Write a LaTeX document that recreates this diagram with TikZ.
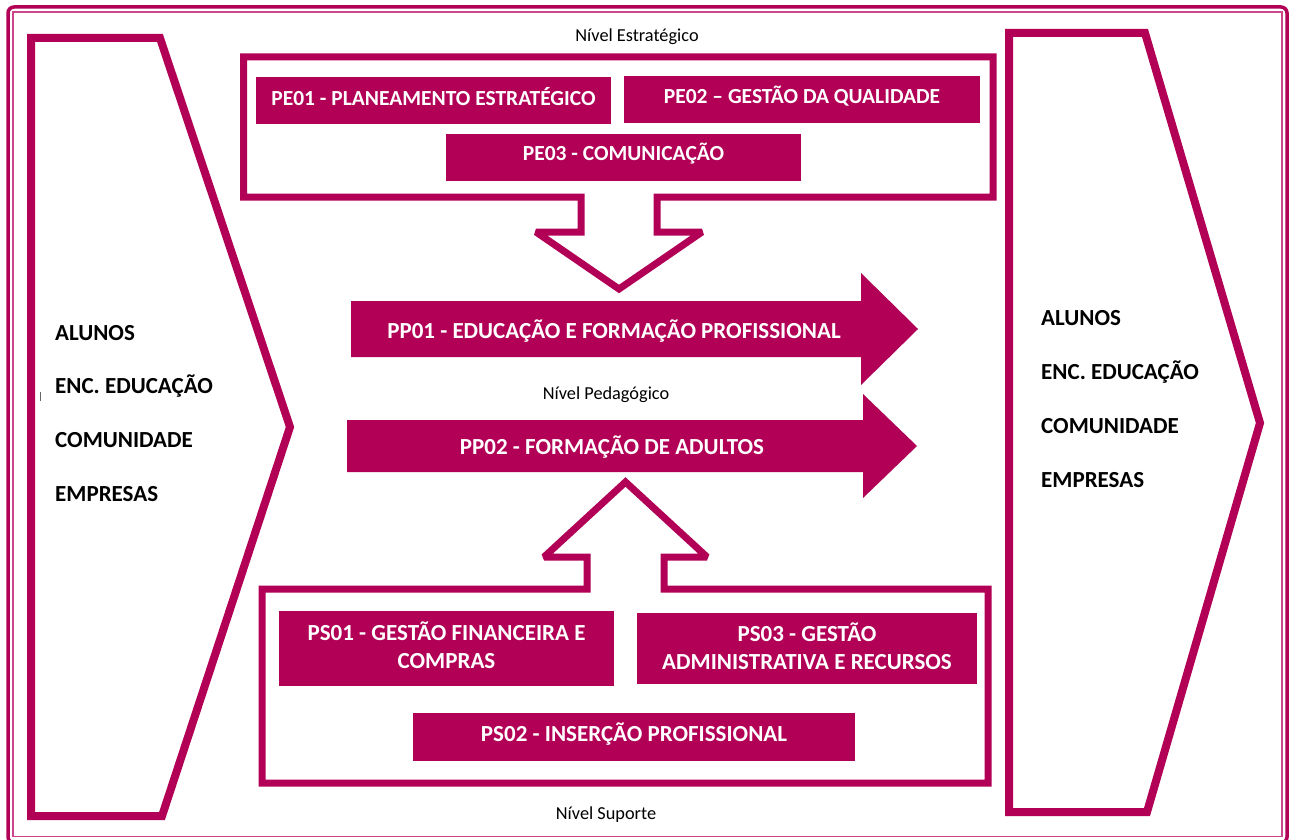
\documentclass[tikz,border=0pt]{standalone}
\usepackage{fontspec}
\setmainfont{Carlito}
\definecolor{mag}{RGB}{178,0,86}
\definecolor{magl}{RGB}{205,70,140}
\begin{document}
\begin{tikzpicture}[x=1pt,y=-1pt,
  fillbox/.style={fill=mag, inner sep=0pt},
  petext/.style={text=white, font=\bfseries\fontsize{21.5}{27}\selectfont, inner sep=0pt, align=center},
  pstext/.style={text=white, font=\bfseries\fontsize{23}{27.5}\selectfont, inner sep=0pt, align=center},
  pptext/.style={text=white, font=\bfseries\fontsize{23}{27}\selectfont, inner sep=0pt},
  outline/.style={draw=mag, line width=7pt, line join=miter, miter limit=2},
  chev/.style={draw=mag, line width=8pt, line join=miter, miter limit=2},
  side/.style={font=\bfseries\fontsize{23}{27}\selectfont, anchor=west, text=black, inner sep=0pt},
  lvl/.style={font=\fontsize{18.3}{21}\selectfont, text=black, inner sep=0pt}]
\useasboundingbox (0,0) rectangle (1293,840);
\fill[white] (0,0) rectangle (1293,840);
% frame
\draw[mag, line width=3.5pt, rounded corners=6pt] (8,7) rectangle (1287,843);
\draw[magl, line width=1.5pt] (13,12) rectangle (1282,836.5);
% chevrons
\draw[chev] (31,38) -- (160,38) -- (290,427) -- (162,816) -- (31,816) -- cycle;
\draw[chev] (1009,33) -- (1145,33) -- (1260,423) -- (1147,812) -- (1009,812) -- cycle;
% strategic box with down arrow
\draw[outline] (581,197) -- (243.5,197) -- (243.5,57) -- (993,57) -- (993,197) -- (657,197)
  -- (657,232) -- (702,232) -- (619,289) -- (536,232) -- (581,232) -- cycle;
% support box with up arrow
\draw[outline] (587,589) -- (262,589) -- (262,783) -- (988,783) -- (988,589) -- (664,589)
  -- (664,557) -- (707,557) -- (625.5,482) -- (544,557) -- (587,557) -- cycle;
% pedagogic arrows
\fill[mag] (351,301) -- (861,301) -- (861,273) -- (918,329) -- (861,385) -- (861,357) -- (351,357) -- cycle;
\fill[mag] (347,420) -- (863,420) -- (863,394) -- (917,446) -- (863,498) -- (863,472) -- (347,472) -- cycle;
\node[pptext] (pp01) at (614,331) {PP01 - EDUCAÇÃO E FORMAÇÃO PROFISSIONAL};
\node[pptext] (pp02) at (612,447) {PP02 - FORMAÇÃO DE ADULTOS};
% strategic processes
\node[fillbox, minimum width=355pt, minimum height=47pt] (pe01) at (433.5,100.5) {};
\node[fillbox, minimum width=356pt, minimum height=47pt] (pe02) at (802,100) {};
\node[fillbox, minimum width=355pt, minimum height=47pt] (pe03) at (623.5,157.5) {};
\node[petext] (pe01t) at ([yshift=3.5pt]pe01.center) {PE01 - PLANEAMENTO ESTRATÉGICO};
\node[petext] (pe02t) at ([yshift=3.5pt]pe02.center) {PE02 – GESTÃO DA QUALIDADE};
\node[petext] (pe03t) at ([yshift=3.5pt]pe03.center) {PE03 - COMUNICAÇÃO};
% support processes
\node[fillbox, minimum width=335pt, minimum height=75pt] (ps01) at (446.5,648.5) {};
\node[fillbox, minimum width=340pt, minimum height=71pt] (ps03) at (807,648.5) {};
\node[fillbox, minimum width=442pt, minimum height=48pt] (ps02) at (634,737) {};
\node[pstext] (ps01t) at ([yshift=3.5pt]ps01.center) {PS01 - GESTÃO FINANCEIRA E\\COMPRAS};
\node[pstext] (ps03t) at ([yshift=2.5pt]ps03.center) {PS03 - GESTÃO\\ADMINISTRATIVA E RECURSOS};
\node[pstext] (ps02t) at ([yshift=3pt]ps02.center) {PS02 - INSERÇÃO PROFISSIONAL};
% level labels
\node[lvl] (ne) at (637,36.5) {Nível Estratégico};
\node[lvl] (np) at (606,394.5) {Nível Pedagógico};
\node[lvl] (ns) at (606,814.5) {Nível Suporte};
% side labels
\node[side] (la) at (55,333) {ALUNOS};
\node[side] (lb) at (55,386) {ENC. EDUCAÇÃO};
\node[side] (lc) at (55,440) {COMUNIDADE};
\node[side] (ld) at (55,494) {EMPRESAS};
\node[side] (ra) at (1041,318) {ALUNOS};
\node[side] (rb) at (1041,372) {ENC. EDUCAÇÃO};
\node[side] (rc) at (1041,426) {COMUNIDADE};
\node[side] (rd) at (1041,480) {EMPRESAS};
\draw[black!60, line width=1pt] (40.5,392) -- (40.5,401);
\end{tikzpicture}
\end{document}
